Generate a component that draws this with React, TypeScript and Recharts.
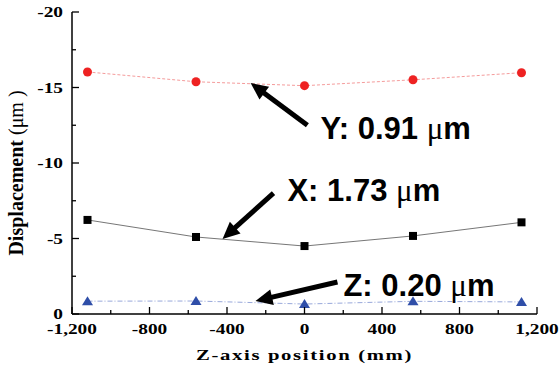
import React from "react";
import { LineChart, Line, XAxis, YAxis, ReferenceLine, ReferenceDot } from "recharts";

// Z-axis position (mm) and displacement (um) of each axis
const positions = [-1120, -560, 0, 560, 1120];
const yDisp = [-16.03, -15.38, -15.12, -15.51, -15.98];
const xDisp = [-6.23, -5.1, -4.5, -5.17, -6.07];
const zDisp = [-0.85, -0.86, -0.66, -0.84, -0.8];

const xTicks = [-1200, -1000, -800, -600, -400, -200, 0, 200, 400, 600, 800, 1000, 1200];
const yTicks = [-20, -17.5, -15, -12.5, -10, -7.5, -5, -2.5, 0];

// annotation arrows: tail -> tip, text anchor (data units)
const notes = [
  { name: "Y", value: "0.91", tail: [15, -12.5], tip: [-278, -15.3], text: [82, -12.3] },
  { name: "X", value: "1.73", tail: [-160, -8.0], tip: [-423, -4.97], text: [-88, -8.2] },
  { name: "Z", value: "0.20", tail: [170, -2.12], tip: [-253, -0.86], text: [201, -1.92] },
];

const data = positions.map((p, i) => ({ pos: p, y: yDisp[i], x: xDisp[i], z: zDisp[i] }));

const SERIF = "'Liberation Serif', 'Times New Roman', serif";
const SANS = "'Liberation Sans', Arial, sans-serif";

// the reference's serif text is stretched sideways
const StretchText = ({ x, y, anchor, size, children, spacing }: any) => (
  <text
    transform={`translate(${x},${y}) scale(1.38,1)`}
    textAnchor={anchor}
    fontFamily={SERIF}
    fontWeight="bold"
    fontSize={size}
    letterSpacing={spacing}
    fill="#000"
  >
    {children}
  </text>
);

const XTick = (props: any) => {
  const { x, y, payload } = props;
  const v = payload.value;
  const major = v % 400 === 0;
  return (
    <g>
      <line x1={x} y1={y} x2={x} y2={y - (major ? 7 : 4)} stroke="#000" strokeWidth={1.3} />
      {major && (
        <StretchText x={x} y={y + 19.5} anchor="middle" size={14}>
          {v.toLocaleString("en-US")}
        </StretchText>
      )}
    </g>
  );
};

const YTick = (props: any) => {
  const { x, y, payload } = props;
  const v = payload.value;
  const major = v % 5 === 0;
  return (
    <g>
      <line x1={x} y1={y} x2={x + (major ? 7 : 4)} y2={y} stroke="#000" strokeWidth={1.3} />
      {major && (
        <StretchText x={x - 9} y={y + 5} anchor="end" size={14}>
          {String(v)}
        </StretchText>
      )}
    </g>
  );
};

const Circle = (p: any) => <circle key={p.index} cx={p.cx} cy={p.cy} r={4.5} fill="#ee2222" />;
const Square = (p: any) => <rect key={p.index} x={p.cx - 4} y={p.cy - 4} width={8} height={8} fill="#000" />;
const Triangle = (p: any) => (
  <polygon key={p.index} points={`${p.cx},${p.cy - 5} ${p.cx - 5.5},${p.cy + 4} ${p.cx + 5.5},${p.cy + 4}`} fill="#2f4ea8" />
);

const Arrow = (p: any) => {
  const { x1, y1, x2, y2 } = p;
  const dx = x2 - x1;
  const dy = y2 - y1;
  const len = Math.sqrt(dx * dx + dy * dy) || 1;
  const ux = dx / len;
  const uy = dy / len;
  const hl = 17;
  const hw = 8;
  const bx = x2 - ux * hl;
  const by = y2 - uy * hl;
  return (
    <g>
      <line x1={x1} y1={y1} x2={bx + ux * 2} y2={by + uy * 2} stroke="#000" strokeWidth={5} />
      <polygon points={`${x2},${y2} ${bx - uy * hw},${by + ux * hw} ${bx + uy * hw},${by - ux * hw}`} fill="#000" />
    </g>
  );
};

export default function App() {
  return (
    <div style={{ position: "absolute", left: 0, top: 0, background: "#fff" }}>
      <LineChart width={560} height={372} data={data} margin={{ top: 12, right: 23, left: 0, bottom: 0 }}>
        <XAxis
          type="number"
          dataKey="pos"
          domain={[-1200, 1200]}
          ticks={xTicks}
          interval={0}
          tickSize={0}
          tickMargin={0}
          tickLine={false}
          tick={XTick}
          height={58}
          axisLine={{ stroke: "#000", strokeWidth: 1.5 }}
          label={{
            content: (lp: any) => {
              const vb = lp.viewBox;
              return (
                <StretchText x={vb.x + vb.width / 2} y={vb.y + 46} anchor="middle" size={15} spacing={1.2}>
                  Z-axis position (mm)
                </StretchText>
              );
            },
          }}
        />
        <YAxis
          type="number"
          domain={[-20, 0]}
          reversed
          ticks={yTicks}
          interval={0}
          tickSize={0}
          tickMargin={0}
          tickLine={false}
          tick={YTick}
          width={72}
          axisLine={{ stroke: "#000", strokeWidth: 1.5 }}
          label={{
            content: (lp: any) => {
              const vb = lp.viewBox;
              const cy = vb.y + vb.height / 2 + 10;
              return (
                <text x={16} y={cy} transform={`rotate(-90, 16, ${cy})`} textAnchor="middle" dy="0.35em" fontFamily={SERIF} fontWeight="bold" fontSize={20} fill="#000">
                  {"Displacement "}
                  <tspan fontWeight="normal">(μm )</tspan>
                </text>
              );
            },
          }}
        />
        <Line dataKey="y" type="linear" stroke="#f39090" strokeWidth={0.9} strokeDasharray="3 2" dot={Circle} isAnimationActive={false} />
        <Line dataKey="x" type="linear" stroke="#666" strokeWidth={0.9} dot={Square} isAnimationActive={false} />
        <Line dataKey="z" type="linear" stroke="#8c9ed6" strokeWidth={0.9} strokeDasharray="5 2 1 2" dot={Triangle} isAnimationActive={false} />
        {notes.map((n) => (
          <ReferenceLine
            key={`a-${n.name}`}
            segment={[
              { x: n.tail[0], y: n.tail[1] },
              { x: n.tip[0], y: n.tip[1] },
            ]}
            shape={Arrow}
          />
        ))}
        {notes.map((n) => (
          <ReferenceDot
            key={`t-${n.name}`}
            x={n.text[0]}
            y={n.text[1]}
            r={0}
            shape={(p: any) => (
              <text x={p.cx} y={p.cy} dy="0.36em" fontFamily={SANS} fontWeight="bold" fontSize={31} fill="#000">
                {`${n.name}: ${n.value} `}
                <tspan fontFamily={SERIF} fontWeight="normal">μ</tspan>
                <tspan>m</tspan>
              </text>
            )}
          />
        ))}
      </LineChart>
    </div>
  );
}
